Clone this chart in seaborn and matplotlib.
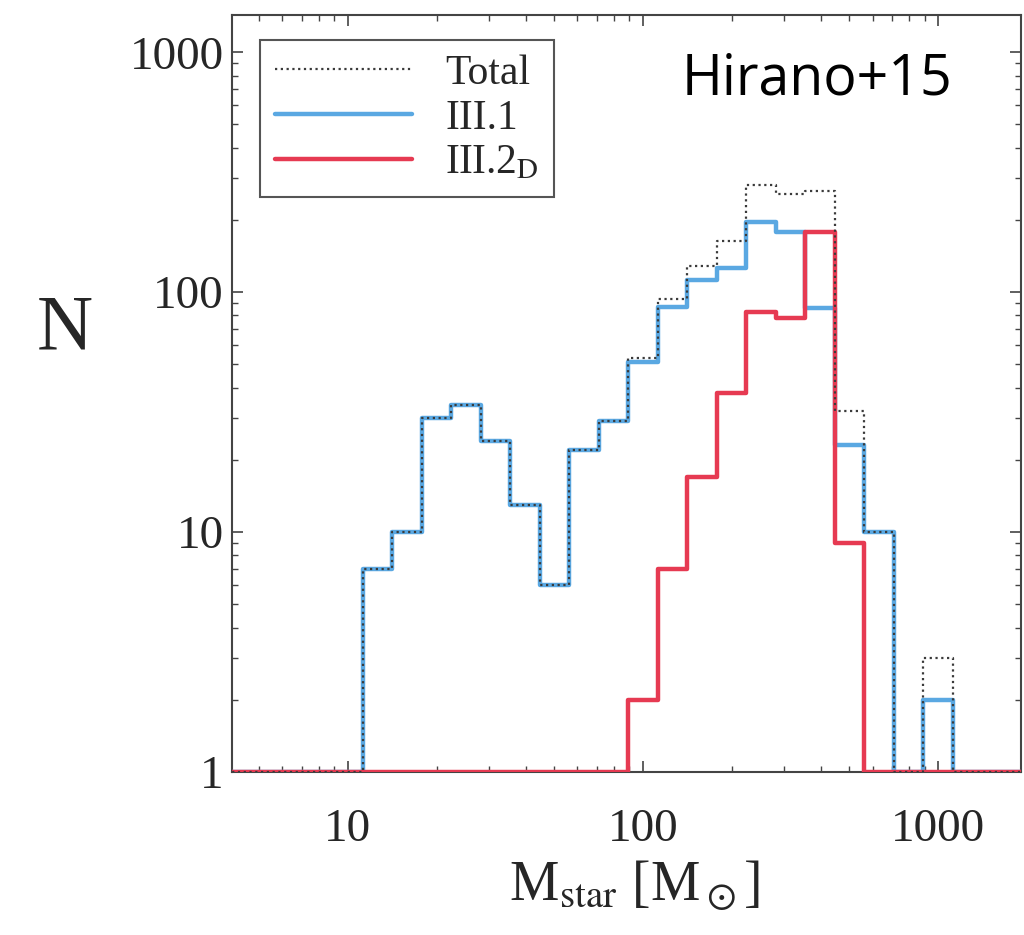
import numpy as np
import pandas as pd
import matplotlib
matplotlib.use("Agg")
import matplotlib.pyplot as plt
from matplotlib.ticker import FixedLocator, FixedFormatter, NullFormatter
import seaborn as sns

# log10 of the stellar-mass bin edges (0.1 dex bins)
log_mass_edges = [1.05, 1.15, 1.25, 1.35, 1.45, 1.55, 1.65, 1.75, 1.85, 1.95,
                  2.05, 2.15, 2.25, 2.35, 2.45, 2.55, 2.65, 2.75, 2.85, 2.95, 3.05]

# number of stars per bin
n_total = [7, 10, 30, 34, 24, 13, 6, 22, 29, 53, 94, 129, 164, 279, 256, 264, 32, 10, 0, 3]
n_III1 = [7, 10, 30, 34, 24, 13, 6, 22, 29, 51, 87, 112, 126, 196, 178, 86, 23, 10, 0, 2]
n_III2D = [0, 0, 0, 0, 0, 0, 0, 0, 0, 2, 7, 17, 38, 83, 78, 178, 9, 0, 0, 0]

series_labels = ["Total", "III.1", r"III.2$_{\rm D}$"]
x_ticks = [10, 100, 1000]
y_ticks = [1, 10, 100, 1000]
x_limits = (4.05, 1910)
y_limits = (1, 1430)

sns.set_style("ticks")
plt.rcParams["font.family"] = ["Liberation Serif", "DejaVu Serif"]
plt.rcParams["mathtext.fontset"] = "stix"

fig = plt.figure(figsize=(10.24, 9.35), dpi=100)
ax = fig.add_axes([232 / 1024, 1 - 772 / 935, 789 / 1024, 757 / 935])
ax.set_xscale("log")
ax.set_yscale("log")


def step_frame(counts):
    """Outline of a histogram, padded with the floor value 1 on both sides."""
    edges = 10 ** np.asarray(log_mass_edges)
    y = np.maximum(np.asarray(counts, dtype=float), 1.0)
    xs = np.concatenate([[1.0], edges, [1e4]])
    ys = np.concatenate([[1.0], y, [1.0, 1.0]])
    return pd.DataFrame({"mass": xs, "N": ys})


blue = "#5aa8e2"
red = "#e63a52"
dark = "#3a3a3a"

sns.lineplot(data=step_frame(n_III1), x="mass", y="N", ax=ax,
             drawstyle="steps-post", color=blue, lw=3.2, zorder=3)
sns.lineplot(data=step_frame(n_III2D), x="mass", y="N", ax=ax,
             drawstyle="steps-post", color=red, lw=3.2, zorder=4)
sns.lineplot(data=step_frame(n_total), x="mass", y="N", ax=ax,
             drawstyle="steps-post", color=dark, lw=1.6, ls=(0, (1, 1.6)),
             zorder=5)

lines = ax.get_lines()
handles = [lines[2], lines[0], lines[1]]
leg = ax.legend(handles, series_labels, loc="upper left",
                bbox_to_anchor=(0.0355, 0.967), borderaxespad=0,
                fontsize=30, handlelength=3.3, handletextpad=0.8,
                labelspacing=0.15, borderpad=0.35, fancybox=False,
                framealpha=1, edgecolor="#555555")
leg.get_frame().set_linewidth(1.5)

ax.set_xlim(*x_limits)
ax.set_ylim(*y_limits)

ax.xaxis.set_major_locator(FixedLocator(x_ticks))
ax.xaxis.set_major_formatter(FixedFormatter([str(v) for v in x_ticks]))
ax.xaxis.set_minor_formatter(NullFormatter())
ax.yaxis.set_major_locator(FixedLocator(y_ticks))
ax.yaxis.set_major_formatter(FixedFormatter([str(v) for v in y_ticks]))
ax.yaxis.set_minor_formatter(NullFormatter())

ax.tick_params(which="both", direction="in", top=True, right=True,
               color="#444444")
ax.tick_params(which="major", length=8, width=1.2)
ax.tick_params(which="minor", length=4, width=1.0)
ax.tick_params(axis="x", which="major", labelsize=34, pad=26)
ax.tick_params(axis="y", which="major", labelsize=34, pad=6)

for sp in ax.spines.values():
    sp.set_color("#444444")
    sp.set_linewidth(1.5)

ax.set_xlabel(r"M$_{\rm star}$ [M$_\odot$]", fontsize=40)
ax.xaxis.label.set_va("center")
ax.xaxis.set_label_coords((635 - 232) / 789, (772 - 885) / 757)

ax.set_ylabel("N", rotation=0, fontsize=56)
ax.yaxis.label.set_va("center")
ax.yaxis.label.set_ha("center")
ax.yaxis.set_label_coords((65 - 232) / 789, (772 - 330) / 757)

fig.text(817 / 1024, 1 - 80 / 935, "Hirano+15", fontsize=40,
         family="Open Sans", ha="center", va="center", color="black")

fig.savefig("out.png", dpi=100)
